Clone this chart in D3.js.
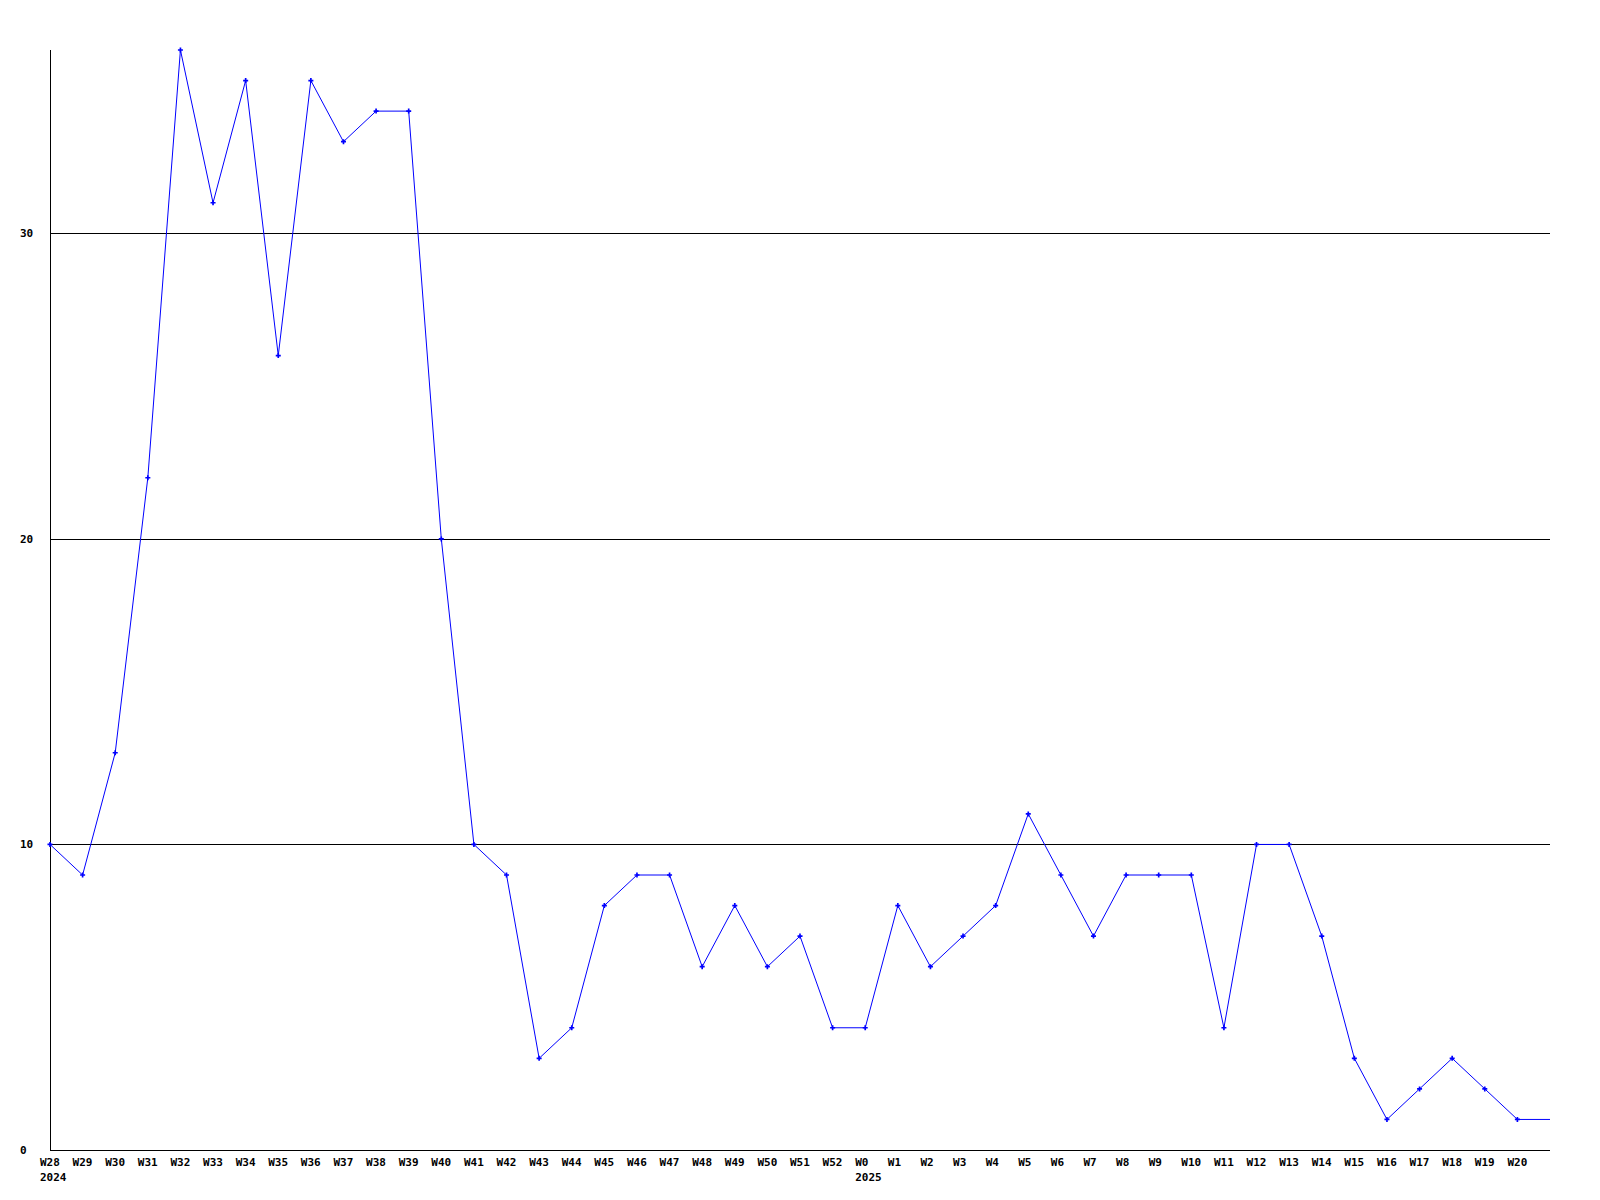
<!DOCTYPE html>
<html><head><meta charset="utf-8">
<script src="https://cdn.jsdelivr.net/npm/d3@7"></script>
<style>body{margin:0;background:#fff}</style>
</head><body>
<svg id="chart" width="1600" height="1200"></svg>
<script>
const weeks = ["W28","W29","W30","W31","W32","W33","W34","W35","W36","W37","W38","W39","W40","W41","W42","W43","W44","W45","W46","W47","W48","W49","W50","W51","W52","W0","W1","W2","W3","W4","W5","W6","W7","W8","W9","W10","W11","W12","W13","W14","W15","W16","W17","W18","W19","W20"];
const values = [10,9,13,22,36,31,35,26,35,33,34,34,20,10,9,3,4,8,9,9,6,8,6,7,4,4,8,6,7,8,11,9,7,9,9,9,4,10,10,7,3,1,2,3,2,1];
const yearLabels = [{week:"W28", year:"2024"},{week:"W0", year:"2025"}];
const yTicks = [0,10,20,30];
const gridTicks = [10,20,30];

(function(){
const svg = d3.select("#chart");
const mLeft = 50, mRight = 1550, mTop = 50, mBottom = 1150;
const x = d3.scaleLinear().domain([0, weeks.length]).range([mLeft, mRight]);
const y = d3.scaleLinear().domain([0, 36]).range([mBottom, mTop]);
const font = "'DejaVu Sans Mono', monospace";

svg.selectAll("line.grid").data(gridTicks).enter().append("line")
  .attr("x1", mLeft).attr("x2", mRight)
  .attr("y1", d => Math.round(y(d)) + 0.5).attr("y2", d => Math.round(y(d)) + 0.5)
  .attr("stroke", "#000").attr("stroke-width", 1);

svg.append("line").attr("x1", mLeft + 0.5).attr("x2", mLeft + 0.5).attr("y1", mTop).attr("y2", mBottom)
  .attr("stroke", "#000");
svg.append("line").attr("x1", mLeft).attr("x2", mRight).attr("y1", mBottom + 0.5).attr("y2", mBottom + 0.5)
  .attr("stroke", "#000");

svg.selectAll("text.ylab").data(yTicks).enter().append("text")
  .attr("x", 20).attr("y", d => y(d) + 4)
  .attr("font-family", font).attr("font-size", 11).attr("font-weight", "bold")
  .text(d => d);

svg.selectAll("text.xlab").data(weeks).enter().append("text")
  .attr("x", (d, i) => x(i) - 10).attr("y", 1166)
  .attr("font-family", font).attr("font-size", 11).attr("font-weight", "bold")
  .text(d => d);
svg.selectAll("text.year").data(yearLabels).enter().append("text")
  .attr("x", d => x(weeks.indexOf(d.week)) - 10).attr("y", 1181)
  .attr("font-family", font).attr("font-size", 11).attr("font-weight", "bold")
  .text(d => d.year);

const pts = values.map((v, i) => [x(i), y(v)]);
pts.push([mRight, y(values[values.length - 1])]);
svg.append("path").attr("d", d3.line()(pts))
  .attr("fill", "none").attr("stroke", "#0000ff").attr("stroke-width", 1);

svg.selectAll("path.mk").data(values).enter().append("path")
  .attr("transform", (d, i) => `translate(${x(i)},${y(d)})`)
  .attr("d", d3.symbol().type(d3.symbolCross).size(14))
  .attr("fill", "#0000ff");
})();
</script>
</body></html>
